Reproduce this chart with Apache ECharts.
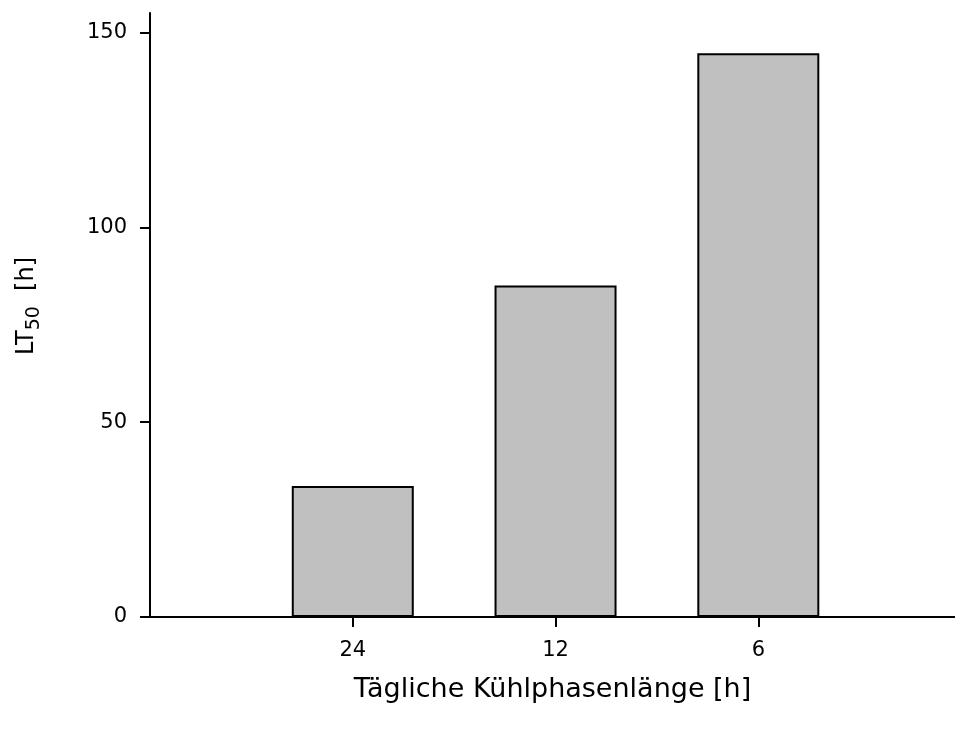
<!DOCTYPE html>
<html>
<head>
<meta charset="utf-8">
<script src="https://cdn.jsdelivr.net/npm/echarts@6/dist/echarts.min.js"></script>
<style>
  html, body { margin: 0; padding: 0; background: #fff; }
  #chart { width: 955px; height: 729px; }
</style>
</head>
<body>
<div id="chart"></div>
<script>
// Daily cooling phase length (h) and resulting LT50 (h)
const categories = ['24', '12', '6'];
const positions = [1, 2, 3];
const lt50Values = [33.6, 85.1, 144.7];
const yTicks = [0, 50, 100, 150];

const chart = echarts.init(document.getElementById('chart'));
const font = '"DejaVu Sans", sans-serif';

chart.setOption({
  animation: false,
  grid: { left: 150, right: 0, top: 13, bottom: 112, outerBoundsMode: 'none' },
  xAxis: {
    type: 'value',
    min: 0,
    max: 3.97,
    splitLine: { show: false },
    axisLine: { show: true, lineStyle: { color: '#000', width: 2 } },
    axisTick: {
      show: true, length: 10, inside: false,
      customValues: positions,
      lineStyle: { color: '#000', width: 2 }
    },
    axisLabel: {
      customValues: positions,
      formatter: v => categories[positions.indexOf(v)] ?? '',
      color: '#000', fontSize: 21, fontFamily: font, margin: 23
    },
    name: 'Tägliche Kühlphasenlänge [h]',
    nameLocation: 'middle',
    nameGap: 59,
    nameTextStyle: { color: '#000', fontSize: 27, fontFamily: font }
  },
  yAxis: {
    type: 'value',
    min: 0,
    max: 155,
    splitLine: { show: false },
    axisLine: { show: true, lineStyle: { color: '#000', width: 2 } },
    axisTick: {
      show: true, length: 10, inside: false,
      customValues: yTicks,
      lineStyle: { color: '#000', width: 2 }
    },
    axisLabel: {
      customValues: yTicks,
      color: '#000', fontSize: 21, fontFamily: font, margin: 23
    },
    name: '{a|LT}{b|50}{a|  [h]}',
    nameLocation: 'middle',
    nameRotate: 90,
    nameGap: 106,
    nameTextStyle: {
      padding: [0, 0, 0, 18],
      rich: {
        a: { color: '#000', fontSize: 24, fontFamily: font, lineHeight: 34, verticalAlign: 'middle' },
        b: { color: '#000', fontSize: 19, fontFamily: font, padding: [16, 0, 0, 0], lineHeight: 34, verticalAlign: 'bottom' }
      }
    }
  },
  series: [{
    type: 'bar',
    barWidth: 122,
    data: positions.map((p, i) => [p, lt50Values[i]]),
    itemStyle: { color: '#c0c0c0', borderColor: '#000', borderWidth: 2 }
  }]
});
</script>
</body>
</html>
